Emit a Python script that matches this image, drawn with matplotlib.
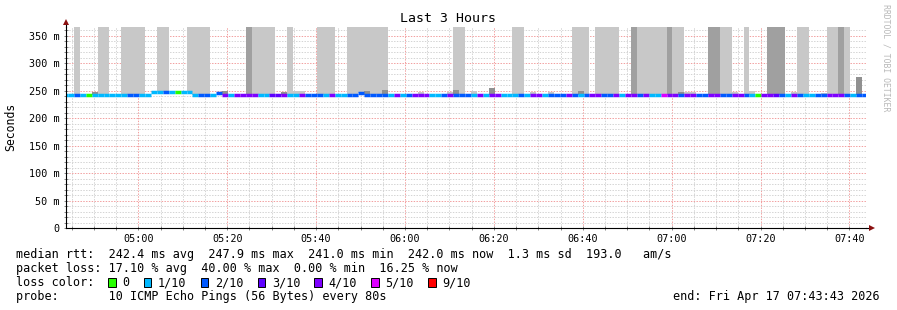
import matplotlib
matplotlib.use("Agg")
import matplotlib.pyplot as plt
import matplotlib.dates as mdates
from matplotlib.patches import Rectangle
from matplotlib.ticker import MultipleLocator, FuncFormatter
from datetime import datetime, timedelta

plt.rcParams["font.family"] = ["DejaVu Sans Mono"]

# ---------------------------------------------------
# DATA (one value per 80 s step, first step starts 04:42:50)
# ---------------------------------------------------

first_step = datetime(2026, 4, 17, 4, 42, 50)
step_sec = 80
view_start = datetime(2026, 4, 17, 4, 43, 43)
view_end = datetime(2026, 4, 17, 7, 43, 43)

# lost pings out of 10 for each step
loss = [
    1, 1, 2, 1, 0, 1, 1, 1, 1, 1,
    1, 2, 2, 1, 1, 1, 1, 2, 1, 0,
    1, 1, 1, 2, 2, 1, 2, 4, 1, 4,
    4, 4, 4, 1, 1, 3, 3, 4, 1, 1,
    4, 2, 2, 2, 1, 4, 1, 1, 2, 2,
    2, 2, 2, 2, 2, 1, 4, 1, 2, 4,
    4, 4, 1, 1, 2, 4, 2, 2, 2, 1,
    4, 1, 4, 4, 1, 1, 1, 2, 1, 4,
    4, 1, 2, 2, 2, 4, 2, 1, 2, 4,
    4, 2, 2, 4, 1, 4, 4, 2, 4, 1,
    1, 5, 4, 4, 2, 4, 4, 2, 2, 4,
    4, 2, 2, 4, 4, 2, 1, 0, 4, 4,
    3, 2, 1, 4, 2, 1, 1, 2, 2, 4,
    4, 4, 2, 1, 2, 2,
]

# median rtt in ms for each step
median_ms = [
    242.0, 242.0, 242.0, 242.0, 242.0, 242.0, 242.0, 242.0, 242.0, 242.0,
    242.0, 242.0, 242.0, 242.0, 242.0, 247.5, 247.5, 247.5, 247.5, 247.5,
    247.5, 247.5, 242.0, 242.0, 242.0, 242.0, 246.0, 242.0, 242.0, 242.0,
    242.0, 242.0, 242.0, 242.0, 242.0, 242.0, 242.0, 242.0, 242.0, 242.0,
    242.0, 242.0, 242.0, 242.0, 242.0, 242.0, 242.0, 242.0, 242.0, 242.0,
    245.0, 242.0, 242.0, 242.0, 242.0, 242.0, 242.0, 242.0, 242.0, 242.0,
    242.0, 242.0, 242.0, 242.0, 242.0, 242.0, 242.0, 242.0, 242.0, 242.0,
    242.0, 242.0, 242.0, 242.0, 242.0, 242.0, 242.0, 242.0, 242.0, 242.0,
    242.0, 242.0, 242.0, 242.0, 242.0, 242.0, 242.0, 242.0, 242.0, 242.0,
    242.0, 242.0, 242.0, 242.0, 242.0, 242.0, 242.0, 242.0, 242.0, 242.0,
    242.0, 242.0, 242.0, 242.0, 242.0, 242.0, 242.0, 242.0, 242.0, 242.0,
    242.0, 242.0, 242.0, 242.0, 242.0, 242.0, 242.0, 242.0, 242.0, 242.0,
    242.0, 242.0, 242.0, 242.0, 242.0, 242.0, 242.0, 242.0, 242.0, 242.0,
    242.0, 242.0, 242.0, 242.0, 242.0, 242.0,
]

# steps where the smoke goes off the top of the graph
tall_light_steps = [2, 6, 7, 10, 11, 12, 13, 16, 17, 21, 22, 23, 24,
                    32, 33, 34, 35, 38, 43, 44, 45, 48, 49, 50, 51, 52, 53, 54,
                    66, 67, 76, 77, 86, 87, 88, 90, 91, 92, 93,
                    97, 98, 99, 100, 101, 103, 104, 111, 112, 115,
                    124, 125, 129, 130, 132]
tall_dark_steps = [31, 96, 102, 109, 110, 119, 120, 121, 131]

# short smoke just above the median
bump_steps = [5, 11, 12, 27, 37, 39, 40, 51, 54, 60, 65, 66, 69, 72, 79,
              82, 87, 104, 105, 106, 111, 112, 113, 116, 123, 128, 129, 130, 134]
bump_top_ms = [248, 247, 247, 250, 248, 250, 250, 250, 252, 248, 248, 252, 250, 255, 247,
               247, 250, 247, 248, 248, 247, 247, 247, 250, 247, 246, 246, 246, 275]
bump_dark = [5, 27, 37, 51, 54, 66, 72, 87, 104, 134]

loss_levels = [0, 1, 2, 3, 4, 5, 9]
loss_colors = ["#26ff00", "#00b8ff", "#0059ff", "#5e00ff", "#7e00ff", "#dd00ff", "#ff0000"]

stat_lines = [
    "median rtt:  242.4 ms avg  247.9 ms max  241.0 ms min  242.0 ms now  1.3 ms sd  193.0   am/s",
    "packet loss: 17.10 % avg  40.00 % max  0.00 % min  16.25 % now",
]
probe_line = "probe:       10 ICMP Echo Pings (56 Bytes) every 80s"
end_line = "end: Fri Apr 17 07:43:43 2026"


# ---------------------------------------------------
# PLOT
# ---------------------------------------------------

W, H = 897, 310
fig = plt.figure(figsize=(W / 100, H / 100), dpi=100)
ax = fig.add_axes([66 / W, 1 - 228 / H, 800 / W, 201 / H])

step_w = step_sec / 86400
starts = [mdates.date2num(first_step + timedelta(seconds=step_sec * i)) for i in range(len(loss))]

light = "#c8c8c8"
dark = "#a0a0a0"

for i in tall_light_steps:
    ax.bar(starts[i], 500 - median_ms[i], bottom=median_ms[i], width=step_w,
           align="edge", color=light, linewidth=0, zorder=1)
for i in tall_dark_steps:
    ax.bar(starts[i], 500 - median_ms[i], bottom=median_ms[i], width=step_w,
           align="edge", color=dark, linewidth=0, zorder=1.1)

for i, top in zip(bump_steps, bump_top_ms):
    col = "#909090" if i in bump_dark else light
    ax.bar(starts[i], top - median_ms[i], bottom=median_ms[i], width=step_w,
           align="edge", color=col, linewidth=0, zorder=1.2)

# median line coloured by loss
seg_colors = [loss_colors[loss_levels.index(n)] for n in loss]
ax.hlines(median_ms, starts, [s + step_w for s in starts], colors=seg_colors,
          linewidth=2.5, zorder=3)

ax.set_xlim(mdates.date2num(view_start), mdates.date2num(view_end))
ax.set_ylim(0, 366)

ax.xaxis.set_major_locator(mdates.MinuteLocator(byminute=[0, 20, 40]))
ax.xaxis.set_minor_locator(mdates.MinuteLocator(byminute=range(0, 60, 5)))
ax.xaxis.set_major_formatter(mdates.DateFormatter("%H:%M"))
ax.yaxis.set_major_locator(MultipleLocator(50))
ax.yaxis.set_minor_locator(MultipleLocator(10))
ax.yaxis.set_major_formatter(FuncFormatter(lambda v, p: "0" if v == 0 else f"{v:.0f} m"))

ax.set_axisbelow(True)
ax.grid(which="major", color="#f2a0a0", linestyle=(0, (1.4, 1.4)), linewidth=0.72)
ax.grid(which="minor", color="#d4d4d4", linestyle=(0, (1.4, 1.4)), linewidth=0.72)

ax.tick_params(which="both", direction="inout", length=2.5, width=0.72,
               color="#888888", labelsize=7.3, labelcolor="#000000")
ax.tick_params(axis="y", pad=3.2)
ax.tick_params(axis="x", pad=3.0)

for s in ["top", "right"]:
    ax.spines[s].set_visible(False)
for s in ["left", "bottom"]:
    ax.spines[s].set_linewidth(0.8)
    ax.spines[s].set_color("#000000")
    ax.spines[s].set_zorder(4)

# axis arrows
ax.plot([0, 0], [1, 1.025], color="black", lw=0.8, transform=ax.transAxes, clip_on=False)
ax.plot([1, 1.005], [0, 0], color="black", lw=0.8, transform=ax.transAxes, clip_on=False)
ax.plot([0.0006], [1.027], marker="^", ms=4.5, color="#8b1010", mew=0,
        transform=ax.transAxes, clip_on=False)
ax.plot([1.007], [0.0], marker=">", ms=4.5, color="#8b1010", mew=0,
        transform=ax.transAxes, clip_on=False)

# texts
fig.text(448 / W, 1 - 19 / H, "Last 3 Hours", ha="center", va="center", fontsize=9.5)
fig.text(11 / W, 1 - 127 / H, "Seconds", rotation=90, ha="center", va="center", fontsize=8.3)
fig.text(886 / W, 1 - 4 / H, "RRDTOOL / TOBI OETIKER", rotation=270, ha="center", va="top",
         fontsize=5.9, color="#b8b8b8")

fs = 8.5
cw = 0.602 * fs * 100 / 72  # char width in pixels
x0 = 16
for k, line in enumerate(stat_lines):
    fig.text(x0 / W, 1 - (254.3 + 14.3 * k) / H, line, ha="left", va="center", fontsize=fs)

y_loss = 282.7
fig.text(x0 / W, 1 - y_loss / H, "loss color:", ha="left", va="center", fontsize=fs)
col = 13
for lvl, c in zip(loss_levels, loss_colors):
    label = "0" if lvl == 0 else f"{lvl}/10"
    bx = x0 + col * cw
    fig.patches.append(Rectangle((bx / W, 1 - (y_loss + 4.2) / H), 7.5 / W, 8.5 / H,
                                 transform=fig.transFigure, facecolor=c,
                                 edgecolor="black", linewidth=0.7))
    fig.text((x0 + (col + 2) * cw) / W, 1 - y_loss / H, label, ha="left", va="center", fontsize=fs)
    col += 2 + len(label) + 2

fig.text(x0 / W, 1 - 296.7 / H, probe_line, ha="left", va="center", fontsize=fs)
fig.text(880 / W, 1 - 296.7 / H, end_line, ha="right", va="center", fontsize=fs)

fig.savefig("out.png", dpi=100)
